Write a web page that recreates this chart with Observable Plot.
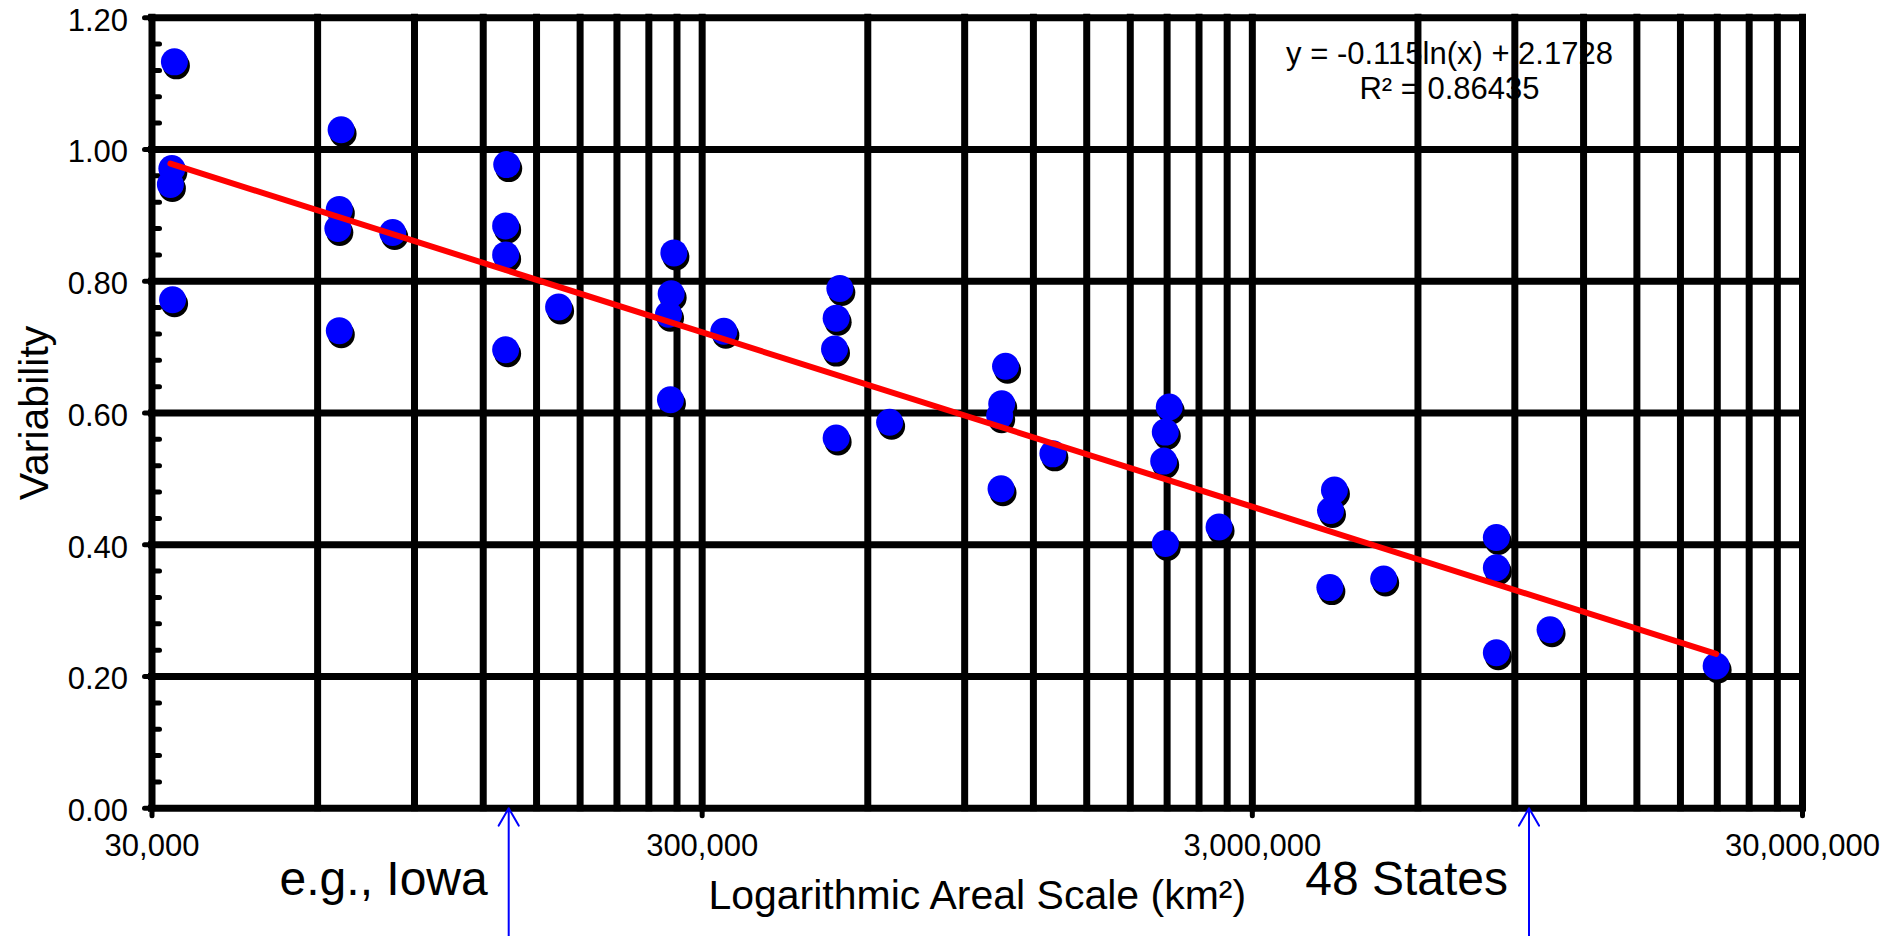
<!DOCTYPE html>
<html>
<head>
<meta charset="utf-8">
<script src="https://cdn.jsdelivr.net/npm/d3@7"></script>
<script src="https://cdn.jsdelivr.net/npm/@observablehq/plot@0.6"></script>
<style>
  html, body { margin: 0; padding: 0; background: #fff; overflow: hidden; }
  #chart svg { display: block; }
</style>
</head>
<body>
<div id="chart"></div>
<script>
// Study areas (km²) and the variability measured for each
const areaKm2 = [
  32950, 32600, 32400, 32700,
  66200, 65700, 65300, 65700, 82150,
  132400, 131800, 131800, 131800, 164500,
  266500, 263500, 260600, 262700, 328500,
  533800, 525600, 522000, 525600, 657400,
  1068000, 1051000, 1042000, 1048000, 1302000,
  2119000, 2084000, 2070000, 2084000, 2610000,
  4230000, 4161000, 4150000, 5198000,
  8330000, 8330000, 8330000, 10430000, 20900000
];
const variability = [
  1.133, 0.971, 0.947, 0.772,
  1.030, 0.909, 0.880, 0.725, 0.874,
  0.977, 0.884, 0.840, 0.696, 0.761,
  0.843, 0.781, 0.750, 0.620, 0.724,
  0.789, 0.744, 0.697, 0.562, 0.586,
  0.671, 0.614, 0.596, 0.485, 0.538,
  0.609, 0.571, 0.527, 0.402, 0.427,
  0.483, 0.452, 0.335, 0.348,
  0.411, 0.365, 0.236, 0.271, 0.216
];

// Logarithmic fit reported with the data
const fitSlope = -0.115;
const fitIntercept = 2.1728;
const fitR2 = 0.86435;

// Reference regions marked under the axis
const regionNames = ["e.g., Iowa", "48 States"];
const regionAreas = [133500, 9550000];

// Axis ticks
const xTickValues = [30000, 300000, 3000000, 30000000];
const xGridMultiples = [2, 3, 4, 5, 6, 7, 8, 9, 10];
const yTickValues = [0, 0.2, 0.4, 0.6, 0.8, 1.0, 1.2];
const yMinorStep = 0.04;

const points = areaKm2.map((a, i) => ({area: a, v: variability[i]}));
const fitLine = d3.extent(areaKm2).map(a => ({area: a, v: fitSlope * Math.log(a) + fitIntercept}));
const regions = regionNames.map((name, i) => ({name, area: regionAreas[i]}));
const xGrid = xTickValues.slice(0, -1).flatMap(d => xGridMultiples.map(k => d * k));
const yMinor = d3.range(0, 30).map(i => +(i * yMinorStep).toFixed(2))
  .filter(v => v <= 1.2 && !yTickValues.some(t => Math.abs(t - v) < 1e-9));
const fitLabel = `y = ${fitSlope}ln(x) + ${fitIntercept}\nR² = ${fitR2}`;

const font = "'Liberation Sans', Arial, Helvetica, sans-serif";
const ink = "#000";

const chart = Plot.plot({
  width: 1903,
  height: 936,
  marginTop: 17.2,
  marginRight: 101,
  marginBottom: 128.2,
  marginLeft: 151.5,
  style: {fontFamily: font, background: "#fff", color: ink},
  x: {type: "log", domain: [30000, 30000000]},
  y: {domain: [0, 1.2]},
  marks: [
    // fit equation sits underneath the grid
    Plot.text([fitLabel], {
      frameAnchor: "top-right", text: d => d, dx: -353, dy: 81,
      textAnchor: "middle", lineAnchor: "bottom", lineHeight: 1.13,
      fontSize: 31, fill: ink
    }),
    // heavy grid and frame
    Plot.ruleX(xGrid, {stroke: ink, strokeWidth: 7, strokeLinecap: "square"}),
    Plot.ruleY(yTickValues, {stroke: ink, strokeWidth: 7, strokeLinecap: "square"}),
    Plot.ruleX([xTickValues[0]], {stroke: ink, strokeWidth: 7, strokeLinecap: "square"}),
    // axes
    Plot.axisX(xTickValues, {
      tickSize: 8, tickPadding: 18, tickFormat: d3.format(","), fontSize: 31,
      strokeWidth: 5, strokeLinecap: "round", label: null
    }),
    Plot.axisY(yTickValues, {tickSize: 7, strokeWidth: 5, strokeLinecap: "round", fill: "none"}),
    Plot.axisY(yTickValues, {
      tickSize: 7, tickPadding: 17, stroke: "none", tickFormat: d3.format(".2f"),
      fontSize: 31, dy: 3, label: null
    }),
    Plot.axisY(yMinor, {tickSize: -8, strokeWidth: 5, strokeLinecap: "round", fill: "none"}),
    // axis titles
    Plot.text(["Variability"], {
      frameAnchor: "left", text: d => d, rotate: -90, dx: -104.5,
      textAnchor: "middle", lineAnchor: "bottom", fontSize: 41, fill: ink
    }),
    Plot.text(["Logarithmic Areal Scale (km²)"], {
      frameAnchor: "bottom", text: d => d, dy: 100.5,
      textAnchor: "middle", lineAnchor: "bottom", fontSize: 41, fill: ink
    }),
    // region markers
    Plot.arrow(regions, {
      x: "area", y1: -0.2, y2: 0, stroke: "#0000ff", strokeWidth: 2,
      headLength: 15, headAngle: 60
    }),
    Plot.text(regions, {
      x: "area", frameAnchor: "bottom", text: "name", dx: -21, dy: 86.2,
      textAnchor: "end", lineAnchor: "bottom", fontSize: 48, fill: ink
    }),
    // observations with drop shadow
    Plot.dot(points, {x: "area", y: "v", r: 13.5, fill: ink, dx: 2, dy: 4}),
    Plot.dot(points, {x: "area", y: "v", r: 13.5, fill: "#0000ff"}),
    // fitted trend
    Plot.line(fitLine, {x: "area", y: "v", stroke: "#ff0000", strokeWidth: 6})
  ]
});

document.getElementById("chart").appendChild(chart);
</script>
</body>
</html>
